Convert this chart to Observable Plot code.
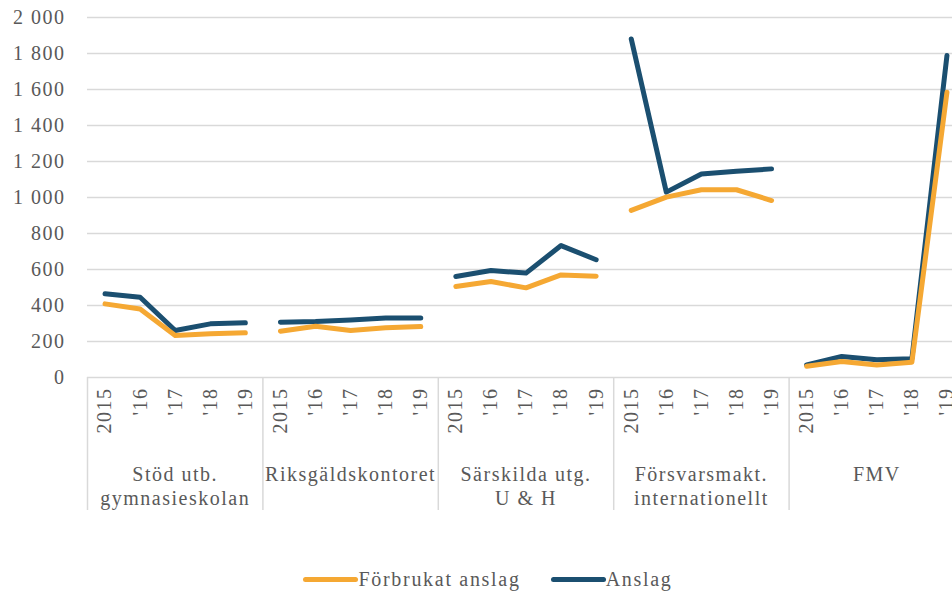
<!DOCTYPE html>
<html>
<head>
<meta charset="utf-8">
<script src="https://cdn.jsdelivr.net/npm/d3@7"></script>
<script src="https://cdn.jsdelivr.net/npm/@observablehq/plot@0.6"></script>
<style>
  html, body { margin: 0; padding: 0; background: #fff; }
  body { width: 952px; height: 593px; overflow: hidden; font-family: 'Liberation Serif', 'Times New Roman', Times, 'DejaVu Serif', serif; }
  #chart svg { display: block; overflow: hidden; }
  #legend { display: flex; justify-content: center; align-items: center; height: 43px; padding-top: 16px; padding-left: 24px; box-sizing: border-box; font-size: 20px; letter-spacing: 1.7px; color: #595959; }
  .sw { display: inline-block; width: 55px; height: 5px; border-radius: 3px; }
  .item { display: flex; align-items: center; margin: 0 15px; }
</style>
</head>
<body>
<div id="chart"></div>
<div id="legend"></div>
<script>
const groups = ["Stöd utb.\ngymnasieskolan", "Riksgäldskontoret", "Särskilda utg.\nU & H", "Försvarsmakt.\ninternationellt", "FMV"];
const years = ["2015", "'16", "'17", "'18", "'19"];
const forbrukat = [
  [409, 381, 233, 243, 248],
  [257, 285, 261, 276, 283],
  [506, 533, 498, 570, 563],
  [928, 1002, 1043, 1043, 983],
  [63, 89, 70, 85, 1585]
];
const anslag = [
  [465, 446, 261, 298, 304],
  [307, 311, 320, 330, 330],
  [561, 594, 580, 733, 654],
  [1881, 1030, 1131, 1146, 1159],
  [70, 117, 98, 104, 1789]
];
const seriesNames = ["Förbrukat anslag", "Anslag"];
const seriesColors = ["#f5a833", "#1b4f70"];
const yTicks = [0, 200, 400, 600, 800, 1000, 1200, 1400, 1600, 1800, 2000];

// Anslag drawn first, Förbrukat on top
const rows = [];
[[anslag, 1], [forbrukat, 0]].forEach(([ser, s]) => {
  ser.forEach((vals, g) => {
    vals.forEach((v, i) => {
      rows.push({series: seriesNames[s], group: g, idx: g * years.length + i, year: years[i], value: v});
    });
  });
});
const nSlots = groups.length * years.length;
const slotIdx = d3.range(nSlots);
const seps = d3.range(groups.length + 1).map(g => g * years.length - 0.5);
const groupCenters = groups.map((name, g) => ({name, idx: g * years.length + (years.length - 1) / 2}));
const fmt = v => d3.format(",")(v).replace(/,/g, " ");
const FONT = "'Liberation Serif', 'Times New Roman', Times, 'DejaVu Serif', serif";

const chart = Plot.plot({
  width: 952,
  height: 550,
  marginLeft: 87,
  marginRight: -12,
  marginTop: 17,
  marginBottom: 173,
  style: {fontFamily: FONT, fontSize: "20px", letterSpacing: "1.5px", color: "#595959", background: "#fff"},
  x: {type: "linear", domain: [-0.5, nSlots - 0.5]},
  y: {domain: [0, 2000]},
  color: {domain: seriesNames, range: seriesColors},
  marks: [
    Plot.gridY(yTicks.filter(t => t > 0), {stroke: "#d9d9d9", strokeOpacity: 1, strokeWidth: 1.5}),
    Plot.ruleY([0], {stroke: "#d9d9d9", strokeWidth: 1.5}),
    Plot.ruleX(seps, {y1: 0, y2: 0, insetBottom: -133, stroke: "#d9d9d9", strokeWidth: 1.5}),
    Plot.axisY({ticks: yTicks, tickFormat: fmt, tickSize: 0, tickPadding: 22, fontSize: 20, fill: "#595959", label: null}),
    Plot.axisX({ticks: slotIdx, tickFormat: i => years[i % years.length], tickSize: 0, tickPadding: 10, tickRotate: -90, fontSize: 20, fill: "#595959", label: null}),
    Plot.text(groupCenters, {x: "idx", text: "name", frameAnchor: "bottom", dy: 86, lineAnchor: "top", lineHeight: 1.2, fontSize: 20, fill: "#595959"}),
    Plot.line(rows, {x: "idx", y: "value", z: d => d.series + d.group, stroke: "series", strokeWidth: 5, strokeLinecap: "round", strokeLinejoin: "round", curve: "linear"})
  ]
});
document.getElementById("chart").appendChild(chart);

const legend = document.getElementById("legend");
seriesNames.forEach((n, i) => {
  const item = document.createElement("div");
  item.className = "item";
  const sw = document.createElement("span");
  sw.className = "sw";
  sw.style.background = seriesColors[i];
  const t = document.createElement("span");
  t.textContent = n;
  item.appendChild(sw);
  item.appendChild(t);
  legend.appendChild(item);
});
</script>
</body>
</html>
